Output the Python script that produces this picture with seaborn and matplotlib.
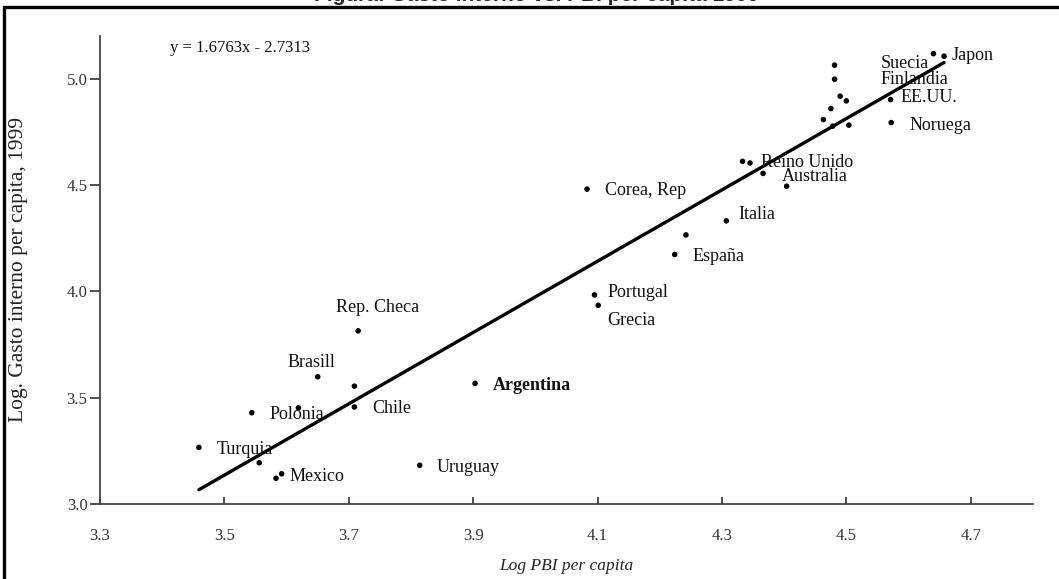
import numpy as np
import pandas as pd
import matplotlib
matplotlib.use("Agg")
import matplotlib.pyplot as plt
import seaborn as sns
from matplotlib.patches import Rectangle

# ---------------- data ----------------
countries = ["Turquia", "", "Mexico", "", "Polonia", "", "Brasill", "", "Chile",
             "Rep. Checa", "Uruguay", "Argentina", "Corea, Rep", "Portugal", "Grecia",
             "España", "", "Italia", "", "Reino Unido", "Australia", "",
             "", "Japon", "Suecia", "Finlandia", "", "", "EE.UU.", "", "", "",
             "Noruega"]
log_pbi = [3.459, 3.556, 3.592, 3.583, 3.544, 3.619, 3.650, 3.709, 3.709,
           3.715, 3.814, 3.903, 4.083, 4.095, 4.101,
           4.224, 4.242, 4.307, 4.333, 4.345, 4.366, 4.404,
           4.640, 4.657, 4.481, 4.481, 4.490, 4.500, 4.571, 4.475, 4.463, 4.478,
           4.572]
log_gasto = [3.266, 3.194, 3.142, 3.121, 3.429, 3.452, 3.598, 3.554, 3.456,
             3.814, 3.182, 3.567, 4.480, 3.983, 3.934,
             4.173, 4.265, 4.331, 4.611, 4.603, 4.554, 4.494,
             5.117, 5.105, 5.063, 4.997, 4.917, 4.895, 4.901, 4.859, 4.807, 4.776,
             4.793]
extra_x = [4.504]
extra_y = [4.781]

slope = 1.6763
intercept = -2.7313
equation = "y = 1.6763x - 2.7313"
x_ticks = [3.3, 3.5, 3.7, 3.9, 4.1, 4.3, 4.5, 4.7]
y_ticks = [3.0, 3.5, 4.0, 4.5, 5.0]
title = "Figura: Gasto interno vs. PBI per capita 1999"
x_label = "Log PBI per capita"
y_label = "Log. Gasto interno per capita, 1999"

# label offsets (pixels) relative to the point: (dx, dy, ha)
label_offsets = {
    "Turquia": (18, -2, "left"), "Mexico": (8, -3, "left"), "Polonia": (18, -2, "left"),
    "Brasill": (-30, 14, "left"), "Chile": (18, -2, "left"),
    "Rep. Checa": (19, 23, "center"), "Uruguay": (17, -2, "left"),
    "Argentina": (18, -2, "left"), "Corea, Rep": (18, -1, "left"),
    "Portugal": (13, 2, "left"), "Grecia": (9, -15, "left"), "España": (18, -2, "left"),
    "Italia": (12, 6, "left"), "Reino Unido": (11, 0, "left"),
    "Australia": (19, -3, "left"), "Japon": (8, 1, "left"), "Suecia": (46, 2, "left"),
    "Finlandia": (46, 0, "left"), "EE.UU.": (10, 2, "left"), "Noruega": (18, -3, "left"),
}

df = pd.DataFrame({"pais": countries, "x": log_pbi, "y": log_gasto})
df_extra = pd.DataFrame({"x": extra_x, "y": extra_y})
all_x = np.array(log_pbi + extra_x)
line_df = pd.DataFrame({"x": [all_x.min(), all_x.max()]})
line_df["y"] = slope * line_df["x"] + intercept

# ---------------- style ----------------
sns.set_style("ticks")
plt.rcParams["font.family"] = ["Liberation Serif", "DejaVu Serif"]

W, H = 1059, 579
fig = plt.figure(figsize=(W / 100, H / 100), dpi=100)
ax = fig.add_axes([100 / W, 1 - 504 / H, 933 / W, 468 / H])

sns.lineplot(data=line_df, x="x", y="y", ax=ax, color="black", lw=2.4, zorder=2)
sns.scatterplot(data=df, x="x", y="y", ax=ax, color="black", s=16, edgecolor="none", zorder=3)
sns.scatterplot(data=df_extra, x="x", y="y", ax=ax, color="black", s=16, edgecolor="none", zorder=3)

for _, r in df.iterrows():
    if not r["pais"]:
        continue
    dx, dy, ha = label_offsets[r["pais"]]
    ax.annotate(r["pais"], (r["x"], r["y"]), xytext=(dx, dy), textcoords="offset pixels",
                ha=ha, va="center", fontsize=13, color="#111111",
                fontweight="bold" if r["pais"] == "Argentina" else "normal")

ax.set_xlim(3.3, 4.8)
ax.set_ylim(3.0, 5.2)
ax.set_xticks(x_ticks)
ax.set_yticks(y_ticks)
ax.set_xticklabels([f"{v:.1f}" for v in x_ticks])
ax.set_yticklabels([f"{v:.1f}" for v in y_ticks])
ax.tick_params(axis="x", direction="in", length=5, width=1.2, pad=17, labelsize=12,
               colors="#333333")
ax.tick_params(axis="y", direction="out", length=7, width=1.2, pad=2, labelsize=12,
               colors="#333333")
for s in ["top", "right"]:
    ax.spines[s].set_visible(False)
for s in ["left", "bottom"]:
    ax.spines[s].set_color("#444444")
    ax.spines[s].set_linewidth(1.3)

ax.set_xlabel(x_label, fontsize=12.5, fontstyle="italic", color="#222222")
ax.xaxis.set_label_coords(0.5, -0.115)
ax.set_ylabel(y_label, fontsize=15.5, color="#222222")
ax.yaxis.set_label_coords(-0.077, 0.5)

ax.text(0.075, 0.975, equation, transform=ax.transAxes, fontsize=12, va="center",
        ha="left", color="#111111")

# outer frame and clipped title
fig.patches.append(Rectangle((4 / W, -0.1), 1.2, 1.1 - 7 / H, transform=fig.transFigure,
                             fill=False, edgecolor="black", lw=2.4, zorder=0))
fig.text(537 / W, 1 - 1 / H, title, ha="center", va="baseline", fontsize=15,
         fontweight="bold", family=["Liberation Sans", "DejaVu Sans"])

fig.savefig("out.png", dpi=100)
